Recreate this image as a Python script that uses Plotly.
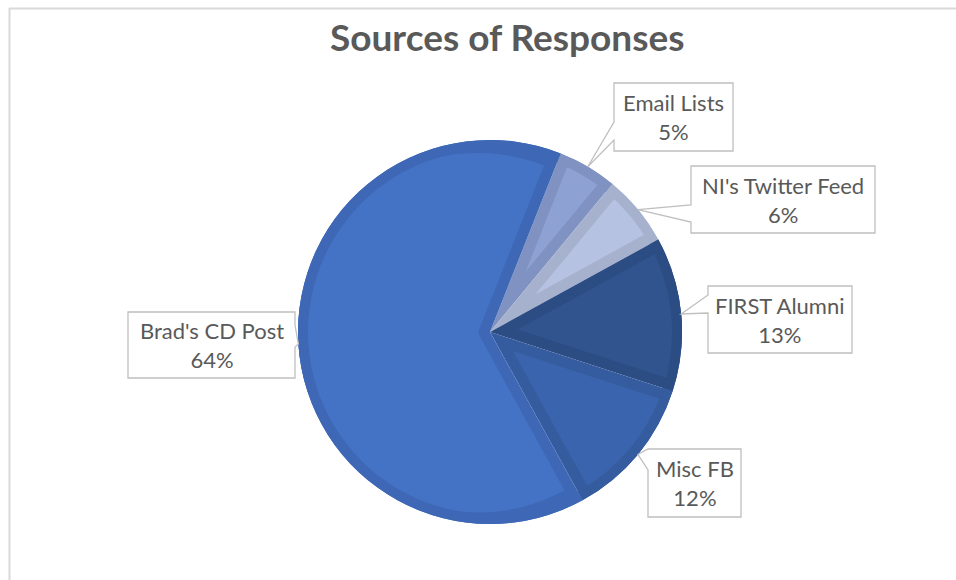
import math
import plotly.graph_objects as go

# Response sources, in clockwise order starting from the top
sources = ["Email Lists", "NI's Twitter Feed", "FIRST Alumni", "Misc FB", "Brad's CD Post"]
shares = [5, 6, 13, 12, 64]

fill_colors = ["#8EA1D3", "#B6C2E2", "#31548F", "#3A64AE", "#4472C4"]
edge_colors = ["#7F92C1", "#A6B1CE", "#2C4C84", "#355C9F", "#3E68B6"]

W, H = 956, 580
CX, CY, R = 490, 332, 192      # pie centre and radius in pixels
RIM = 10                        # bevel width along the outer arc
SIDE = 11                       # bevel width along the radial edges
START = 21.6                    # angle of the first slice edge, clockwise from 12 o'clock

# Callout boxes (x0, y0, x1, y1) and the side/span of each pointer notch
boxes = [(614, 83, 733, 151), (691, 166, 875, 233), (708, 286, 852, 353),
         (648, 449, 741, 517), (128, 312, 295, 378)]
notches = [("left", 122, 140), ("left", 205, 222), ("left", 295, 313),
           ("left", 449, 470), ("right", 325, 347)]


def px(x):
    return x / W


def py(y):
    return 1 - y / H


domain = dict(x=[px(CX - R), px(CX + R)], y=[py(CY + R), py(CY - R)])
common = dict(labels=sources, values=shares, sort=False, direction="clockwise",
              rotation=START, textinfo="none", hoverinfo="label+percent",
              showlegend=False, domain=domain)

total = sum(shares)
sweeps = [v / total * 360 for v in shares]
mids = []
acc = START
for s in sweeps:
    mids.append(acc + s / 2)
    acc += s

fig = go.Figure()

# Base layer: the whole pie in the darker bevel colours
fig.add_trace(go.Pie(marker=dict(colors=edge_colors, line=dict(width=0)), **common))

# Inset face of each slice: the same wedge pulled outward along its bisector
clear = "rgba(0,0,0,0)"
for k, s in enumerate(sweeps):
    shift = SIDE / math.sin(math.radians(s / 2))
    r_face = R - shift
    pull = shift / r_face
    fig.add_trace(go.Pie(
        marker=dict(colors=[fill_colors[j] if j == k else clear for j in range(len(shares))],
                    line=dict(width=0)),
        pull=[pull if j == k else 0 for j in range(len(shares))],
        **common))

# Outer rim of the bevel
fig.add_trace(go.Pie(hole=(R - RIM) / R,
                     marker=dict(colors=edge_colors, line=dict(width=0)), **common))

shapes = []
annotations = []

# Chart-area border (top and left edges)
border = dict(color="#D9D9D9", width=2)
shapes.append(dict(type="line", xref="paper", yref="paper",
                   x0=px(9), y0=py(8.5), x1=px(W + 5), y1=py(8.5), line=border))
shapes.append(dict(type="line", xref="paper", yref="paper",
                   x0=px(9.5), y0=py(8), x1=px(9.5), y1=py(H + 5), line=border))

# Data-label callouts pointing at the middle of each slice's arc
for name, v, mid, (x0, y0, x1, y1), (side, n1, n2) in zip(sources, shares, mids, boxes, notches):
    a = math.radians(mid)
    tx, ty = CX + R * math.sin(a), CY - R * math.cos(a)
    if side == "left":
        pts = [(x0, y0), (x1, y0), (x1, y1), (x0, y1), (x0, n2), (tx, ty), (x0, n1)]
    else:
        pts = [(x0, y0), (x1, y0), (x1, n1), (tx, ty), (x1, n2), (x1, y1), (x0, y1)]
    path = "M " + " L ".join(f"{px(x):.5f},{py(y):.5f}" for x, y in pts) + " Z"
    shapes.append(dict(type="path", xref="paper", yref="paper", path=path,
                       fillcolor="white", line=dict(color="#BFBFBF", width=1.3)))
    annotations.append(dict(
        x=px((x0 + x1) / 2), y=py((y0 + y1) / 2), xref="paper", yref="paper",
        text=f"{name}<br>{v / total * 100:.0f}%", showarrow=False,
        xanchor="center", yanchor="middle", align="center",
        font=dict(family="Lato", size=22, color="#595959")))

annotations.append(dict(
    x=px(507), y=py(36), xref="paper", yref="paper",
    text="<b>Sources of Responses</b>", showarrow=False,
    xanchor="center", yanchor="middle",
    font=dict(family="Lato", size=37, color="#595959")))

fig.update_layout(width=W, height=H, margin=dict(l=0, r=0, t=0, b=0),
                  paper_bgcolor="white", plot_bgcolor="white",
                  shapes=shapes, annotations=annotations)

fig.write_html("out.html")
